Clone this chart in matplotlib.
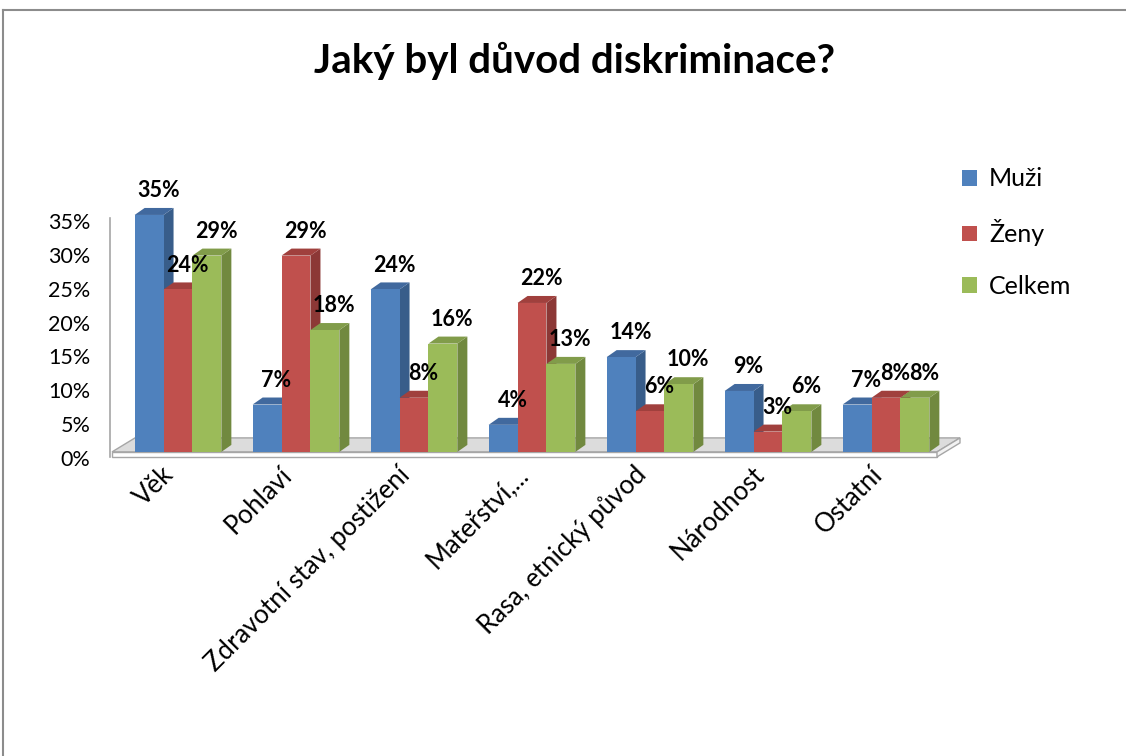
import matplotlib.pyplot as plt
from matplotlib.patches import Polygon, Rectangle
from matplotlib.lines import Line2D

plt.rcParams['font.family'] = ['Lato', 'DejaVu Sans']

# Data
categories = ["Věk", "Pohlaví", "Zdravotní stav, postižení", "Mateřství,...",
              "Rasa, etnický původ", "Národnost", "Ostatní"]
muzi = [35, 7, 24, 4, 14, 9, 7]
zeny = [24, 29, 8, 22, 6, 3, 8]
celkem = [29, 18, 16, 13, 10, 6, 8]
series_names = ["Muži", "Ženy", "Celkem"]
yticks = [0, 5, 10, 15, 20, 25, 30, 35]

# colours: front, side, top
colors = [("#4F81BD", "#385D8A", "#41699E"),
          ("#C0504D", "#8C3836", "#A0403D"),
          ("#9BBB59", "#71893F", "#819C4A")]

W, H = 1126, 756
fig = plt.figure(figsize=(W / 100, H / 100), dpi=100)

# page border (grey, open at right/bottom)
fig.add_artist(Line2D([3 / W, 1], [1 - 10 / H, 1 - 10 / H], color="#8C8C8C", lw=1.5))
fig.add_artist(Line2D([3 / W, 3 / W], [0, 1 - 10 / H], color="#8C8C8C", lw=1.5))

# axes placed so that 1 category = 118 px, 1 % = 6.77 px
ax_l, ax_r, ax_t, ax_b = 100, 1000, 150, 470
ax = fig.add_axes([ax_l / W, 1 - ax_b / H, (ax_r - ax_l) / W, (ax_b - ax_t) / H])
px_x, px_y = 118.0, 6.77
ax.set_xlim((ax_l - 178) / px_x, (ax_r - 178) / px_x)
ax.set_ylim((458 - ax_b) / px_y, (458 - ax_t) / px_y)
for s in ax.spines.values():
    s.set_visible(False)
ax.set_xticks([])
ax.set_yticks(yticks)
ax.set_yticklabels([f"{t}%" for t in yticks], fontsize=15.5, color="#000000")
ax.tick_params(axis="y", length=0, pad=7)

base = 0.9          # bar front face bottom
dx = 10 / px_x      # depth offset
dy = 7 / px_y
bw = 0.245

# floor slab
fl_l, fl_r = (112 - 178) / px_x, (937 - 178) / px_x
fdx, fdy = 23 / px_x, 14 / px_y
fthick = 5 / px_y
ax.add_patch(Polygon([(fl_l, base), (fl_r, base), (fl_r + fdx, base + fdy), (fl_l + fdx, base + fdy)],
                     closed=True, facecolor="#DCDCDC", edgecolor="#A6A6A6", lw=1, zorder=1))
ax.add_patch(Polygon([(fl_l, base - fthick), (fl_r, base - fthick), (fl_r, base), (fl_l, base)],
                     closed=True, facecolor="#FFFFFF", edgecolor="#A6A6A6", lw=1, zorder=1))
ax.add_patch(Polygon([(fl_r, base - fthick), (fl_r + fdx, base + fdy - fthick), (fl_r + fdx, base + fdy), (fl_r, base)],
                     closed=True, facecolor="#F2F2F2", edgecolor="#A6A6A6", lw=1, zorder=1))
# vertical axis line
ax.plot([fl_l - 0.015, fl_l - 0.015], [base - fthick, 35.4], color="#A6A6A6", lw=1.2, zorder=1)

z = 2
for i in range(len(categories)):
    vals = [muzi[i], zeny[i], celkem[i]]
    for j, v in enumerate(vals):
        front, side, top = colors[j]
        x0 = i + (j - 1.5) * bw
        x1 = x0 + bw
        y1 = base + v
        ax.add_patch(Polygon([(x1, base), (x1 + dx, base + dy), (x1 + dx, y1 + dy), (x1, y1)],
                             closed=True, facecolor=side, edgecolor="none", zorder=z))
        ax.add_patch(Polygon([(x0, y1), (x1, y1), (x1 + dx, y1 + dy), (x0 + dx, y1 + dy)],
                             closed=True, facecolor=top, edgecolor="none", zorder=z))
        ax.add_patch(Rectangle((x0, base), bw, v, facecolor=front, edgecolor="none", zorder=z))
        z += 1
    for j, v in enumerate(vals):
        x0 = i + (j - 1.5) * bw
        ax.text(x0 + bw / 2 + 0.08, base + v + dy + 1.6, f"{v}%", ha="center", va="baseline",
                fontsize=15.5, fontweight="bold", color="#000000", zorder=100)

# category labels
for i, c in enumerate(categories):
    ax.text(i - 0.14, -0.6, c, rotation=45, ha="right", va="top", rotation_mode="anchor",
            fontsize=18.5, color="#000000", clip_on=False)

# title
fig.text(575 / W, 1 - 61 / H, "Jaký byl důvod diskriminace?", ha="center", va="center",
         fontsize=29, fontweight="bold", color="#000000")

# legend
handles = [Rectangle((0, 0), 1, 1, facecolor=colors[k][0], edgecolor="none") for k in range(3)]
fig.legend(handles, series_names, loc="upper left", bbox_to_anchor=(939 / W, 1 - 145 / H),
           frameon=False, fontsize=18, handlelength=0.6, handleheight=0.6, handletextpad=0.5,
           labelspacing=1.15)

fig.savefig("out.png", dpi=100)
